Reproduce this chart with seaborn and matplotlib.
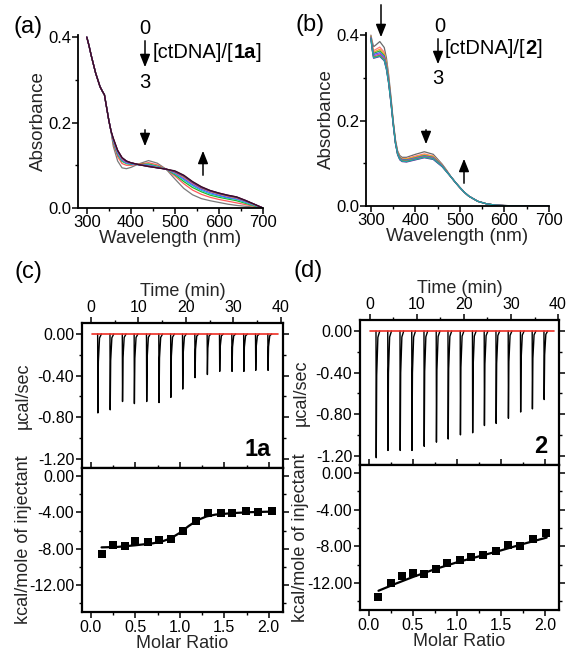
import numpy as np
import pandas as pd
import matplotlib
matplotlib.use("Agg")
import matplotlib.pyplot as plt
import seaborn as sns
from matplotlib.ticker import MultipleLocator, FormatStrFormatter
from matplotlib.patches import FancyArrowPatch

# ---------------- data ----------------
# panel (a): UV-vis titration of 1a with ctDNA
a_wl_head = [300, 305, 310, 320, 330, 335, 340, 345, 350, 355]
a_head = [0.400, 0.380, 0.357, 0.316, 0.284, 0.274, 0.265, 0.235, 0.205, 0.180]
a_wl_tail = [360, 370, 380, 390, 400, 420, 440, 460, 480, 500, 520, 540, 560, 580, 600, 620, 640, 660, 680, 700]
a_c0 = [0.145, 0.110, 0.094, 0.092, 0.095, 0.104, 0.111, 0.105, 0.091, 0.068, 0.046, 0.031, 0.022, 0.017, 0.013, 0.009, 0.006, 0.004, 0.002, 0.000]
a_c1 = [0.150, 0.120, 0.104, 0.100, 0.100, 0.103, 0.106, 0.101, 0.091, 0.075, 0.057, 0.042, 0.032, 0.025, 0.020, 0.016, 0.012, 0.008, 0.004, 0.000]
a_c2 = [0.154, 0.125, 0.109, 0.104, 0.102, 0.102, 0.103, 0.098, 0.091, 0.078, 0.062, 0.048, 0.038, 0.030, 0.025, 0.021, 0.017, 0.011, 0.005, 0.000]
a_c3 = [0.156, 0.127, 0.111, 0.105, 0.103, 0.101, 0.101, 0.097, 0.091, 0.080, 0.066, 0.052, 0.041, 0.033, 0.028, 0.023, 0.020, 0.013, 0.006, 0.000]
a_c4 = [0.158, 0.129, 0.113, 0.106, 0.104, 0.101, 0.100, 0.096, 0.091, 0.082, 0.069, 0.055, 0.044, 0.036, 0.030, 0.025, 0.022, 0.015, 0.007, 0.000]
a_c5 = [0.159, 0.131, 0.114, 0.107, 0.105, 0.101, 0.099, 0.095, 0.091, 0.083, 0.071, 0.057, 0.046, 0.038, 0.032, 0.027, 0.023, 0.016, 0.008, 0.000]
a_c6 = [0.161, 0.133, 0.116, 0.109, 0.106, 0.101, 0.098, 0.095, 0.091, 0.084, 0.073, 0.059, 0.047, 0.039, 0.033, 0.028, 0.024, 0.017, 0.008, 0.000]
a_c7 = [0.162, 0.134, 0.117, 0.109, 0.106, 0.101, 0.098, 0.094, 0.091, 0.085, 0.075, 0.060, 0.048, 0.040, 0.034, 0.029, 0.025, 0.017, 0.009, 0.000]
a_c8 = [0.163, 0.135, 0.118, 0.110, 0.106, 0.101, 0.097, 0.094, 0.091, 0.086, 0.076, 0.061, 0.049, 0.041, 0.035, 0.030, 0.026, 0.018, 0.009, 0.000]
a_c9 = [0.164, 0.135, 0.118, 0.110, 0.106, 0.101, 0.097, 0.094, 0.091, 0.087, 0.077, 0.062, 0.050, 0.041, 0.035, 0.030, 0.026, 0.018, 0.009, 0.000]
a_colors = ["#7a7a7a", "#ff5a5a", "#22b822", "#22c0c8", "#3a5cff", "#d040d0", "#c8c020", "#20207a", "#7a1a8a", "#3a1020"]

# panel (b): UV-vis titration of 2 with ctDNA
b_wl_head = [300, 303, 306, 310, 320, 330, 335, 340, 345, 350, 355, 360, 365, 370, 380, 400, 420, 440, 460, 470]
b_g0 = [0.400, 0.385, 0.373, 0.376, 0.385, 0.371, 0.346, 0.306, 0.256, 0.201, 0.156, 0.129, 0.118, 0.114, 0.114, 0.121, 0.127, 0.121, 0.098, 0.084]
b_g1 = [0.398, 0.378, 0.364, 0.366, 0.372, 0.360, 0.337, 0.299, 0.251, 0.198, 0.153, 0.126, 0.115, 0.111, 0.111, 0.117, 0.122, 0.117, 0.096, 0.083]
b_g2 = [0.397, 0.375, 0.360, 0.362, 0.367, 0.356, 0.333, 0.296, 0.249, 0.197, 0.152, 0.125, 0.114, 0.110, 0.110, 0.115, 0.120, 0.116, 0.095, 0.082]
b_g3 = [0.396, 0.373, 0.357, 0.359, 0.363, 0.352, 0.330, 0.294, 0.248, 0.196, 0.151, 0.124, 0.113, 0.109, 0.108, 0.113, 0.118, 0.114, 0.095, 0.082]
b_g4 = [0.395, 0.371, 0.354, 0.356, 0.359, 0.349, 0.327, 0.292, 0.246, 0.195, 0.150, 0.123, 0.112, 0.108, 0.107, 0.112, 0.117, 0.113, 0.094, 0.081]
b_g5 = [0.394, 0.369, 0.351, 0.353, 0.356, 0.346, 0.324, 0.290, 0.245, 0.194, 0.149, 0.122, 0.111, 0.107, 0.106, 0.111, 0.116, 0.112, 0.094, 0.081]
b_g6 = [0.393, 0.367, 0.349, 0.350, 0.353, 0.343, 0.322, 0.288, 0.243, 0.193, 0.148, 0.121, 0.110, 0.106, 0.105, 0.110, 0.115, 0.111, 0.093, 0.080]
b_g7 = [0.392, 0.365, 0.346, 0.347, 0.350, 0.340, 0.319, 0.286, 0.241, 0.191, 0.147, 0.120, 0.108, 0.104, 0.103, 0.108, 0.113, 0.109, 0.092, 0.080]
b_g8 = [0.392, 0.366, 0.347, 0.348, 0.351, 0.341, 0.320, 0.287, 0.242, 0.192, 0.148, 0.121, 0.109, 0.105, 0.104, 0.109, 0.114, 0.110, 0.093, 0.080]
b_wl_tail = [480, 490, 500, 510, 520, 540, 560, 580, 600, 650, 700]
b_tail = [0.068, 0.055, 0.043, 0.032, 0.023, 0.011, 0.005, 0.002, 0.001, 0.000, 0.000]
b_colors = ["#6a6a6a", "#ff7a7a", "#f0a030", "#30b030", "#4060ff", "#c040c0", "#909020", "#702090", "#20a8a8"]

# panel (c): ITC of 1a
c_inj_time = [1.4, 4.0, 6.6, 9.1, 11.7, 14.3, 16.8, 19.3, 21.9, 24.5, 27.1, 29.7, 32.2, 34.7, 37.3]
c_inj_peak = [-0.76, -0.73, -0.65, -0.67, -0.65, -0.66, -0.61, -0.53, -0.42, -0.39, -0.36, -0.36, -0.36, -0.35, -0.35]
c_base_t = [0.3, 39.4]
c_ratio = [0.12, 0.25, 0.38, 0.50, 0.64, 0.77, 0.90, 1.04, 1.18, 1.32, 1.46, 1.59, 1.74, 1.88, 2.04]
c_heat = [-8.58, -7.55, -7.70, -7.19, -7.30, -7.04, -6.90, -6.10, -4.93, -4.09, -4.12, -4.09, -3.80, -3.94, -3.83]
c_fit_x = [0.12, 0.30, 0.50, 0.70, 0.80, 0.90, 1.00, 1.10, 1.20, 1.30, 1.40, 1.60, 1.80, 2.04]
c_fit_y = [-7.85, -7.80, -7.62, -7.40, -7.20, -6.85, -6.25, -5.50, -4.85, -4.45, -4.25, -4.08, -3.98, -3.92]

# panel (d): ITC of 2
d_inj_time = [1.3, 3.8, 6.4, 8.9, 11.5, 14.1, 16.6, 19.2, 21.8, 24.3, 26.8, 29.4, 32.0, 34.5, 37.0]
d_inj_peak = [-1.22, -1.15, -1.15, -1.15, -1.11, -1.07, -1.04, -1.00, -0.98, -0.91, -0.89, -0.84, -0.78, -0.75, -0.66]
d_base_t = [0.0, 39.1]
d_ratio = [0.11, 0.25, 0.38, 0.50, 0.63, 0.76, 0.89, 1.03, 1.16, 1.30, 1.44, 1.58, 1.72, 1.86, 2.01]
d_heat = [-13.56, -12.00, -11.27, -10.90, -11.00, -10.44, -9.82, -9.53, -9.16, -8.90, -8.47, -7.82, -8.00, -7.20, -6.55]
d_fit_x = [0.11, 0.30, 0.50, 0.75, 1.00, 1.25, 1.50, 1.75, 2.02]
d_fit_y = [-12.85, -12.10, -11.35, -10.50, -9.75, -9.10, -8.45, -7.75, -7.05]

# ITC injection peak drawing template (relative time, fraction of peak)
spike_dt = [0.0, 0.05, 0.15, 0.40, 0.80]
spike_frac = [0.0, 1.0, 0.35, 0.05, 0.0]

# ---------------- style ----------------
sns.set_theme(style="ticks")
plt.rcParams['font.family'] = ['Liberation Sans', 'DejaVu Sans']
plt.rcParams['axes.unicode_minus'] = False
plt.rcParams['axes.edgecolor'] = 'black'
plt.rcParams['xtick.color'] = 'black'
plt.rcParams['ytick.color'] = 'black'
plt.rcParams['text.color'] = 'black'

W, H = 568, 654
fig = plt.figure(figsize=(W / 100, H / 100), dpi=100)
renderer = fig.canvas.get_renderer()


def rect(l, t, r, b):
    return [l / W, 1 - b / H, (r - l) / W, (b - t) / H]


def ftext(x, y, s, **kw):
    fig.text(x / W, 1 - y / H, s, ha=kw.pop('ha', 'center'), va=kw.pop('va', 'center'), **kw)


def rich(x, y, parts, size):
    xx = x
    for s, wgt in parts:
        t = fig.text(xx / W, 1 - y / H, s, fontsize=size, fontweight=wgt, ha='left', va='center')
        xx += t.get_window_extent(renderer=renderer).width


def farrow(x, y0, y1):
    fig.add_artist(FancyArrowPatch((x / W, 1 - y0 / H), (x / W, 1 - y1 / H),
                                   transform=fig.transFigure,
                                   arrowstyle='-|>,head_length=0.55,head_width=0.22',
                                   mutation_scale=14, color='black', lw=1.1))


TICK = 12
LAB = 13.5
ANN = 14.5


def uv_axes(ax, xlim):
    ax.set_xlim(*xlim)
    ax.set_ylim(0, 0.405)
    ax.xaxis.set_major_locator(MultipleLocator(100))
    ax.xaxis.set_minor_locator(MultipleLocator(50))
    ax.yaxis.set_major_locator(MultipleLocator(0.2))
    ax.yaxis.set_minor_locator(MultipleLocator(0.1))
    ax.yaxis.set_major_formatter(FormatStrFormatter('%.1f'))
    ax.tick_params(which='major', direction='out', length=4, width=1.1, labelsize=TICK, pad=1)
    ax.tick_params(which='minor', direction='out', length=2.5, width=1.0)
    for s in ['top', 'right']:
        ax.spines[s].set_visible(False)
    for s in ['left', 'bottom']:
        ax.spines[s].set_linewidth(1.3)
    ax.set_xlabel('Wavelength (nm)', fontsize=LAB, labelpad=0)
    ax.set_ylabel('Absorbance', fontsize=LAB, labelpad=1)


# ---------------- panel (a) ----------------
rows = []
for k, c in enumerate([a_c0, a_c1, a_c2, a_c3, a_c4, a_c5, a_c6, a_c7, a_c8, a_c9]):
    for w, v in zip(a_wl_head + a_wl_tail, a_head + c):
        rows.append((k, w, v))
dfa = pd.DataFrame(rows, columns=['step', 'wl', 'A'])
axa = fig.add_axes(rect(78, 35, 263, 208))
sns.lineplot(data=dfa, x='wl', y='A', hue='step', palette=a_colors, estimator=None,
             sort=False, legend=False, lw=0.9, ax=axa)
uv_axes(axa, (280, 700))

# ---------------- panel (b) ----------------
rows = []
for k, c in enumerate([b_g0, b_g1, b_g2, b_g3, b_g4, b_g5, b_g6, b_g7, b_g8]):
    for w, v in zip(b_wl_head + b_wl_tail, c + b_tail):
        rows.append((k, w, v))
dfb = pd.DataFrame(rows, columns=['step', 'wl', 'A'])
axb = fig.add_axes(rect(366, 33, 549, 206))
sns.lineplot(data=dfb, x='wl', y='A', hue='step', palette=b_colors, estimator=None,
             sort=False, legend=False, lw=0.9, ax=axb)
uv_axes(axb, (289, 700))

ITICK = 11.5
ILAB = 13


# ---------------- ITC panels ----------------
def itc(top_rect, bot_rect, times, peaks, base_t, tlim, ratio, heat, fx, fy, tag):
    axt = fig.add_axes(top_rect)
    rows = []
    for i, (t, p) in enumerate(zip(times, peaks)):
        for dt, f in zip(spike_dt, spike_frac):
            rows.append((i, t + dt, p * f))
    dfs = pd.DataFrame(rows, columns=['inj', 't', 'p'])
    sns.lineplot(x=base_t, y=[0, 0], color='#ee2d24', lw=1.2, ax=axt, zorder=3)
    sns.lineplot(data=dfs, x='t', y='p', units='inj', estimator=None, sort=False,
                 color='black', lw=1.0, ax=axt, zorder=2)
    axt.set_xlim(*tlim)
    axt.set_ylim(-1.29, 0.106)
    axt.xaxis.tick_top()
    axt.xaxis.set_label_position('top')
    axt.xaxis.set_major_locator(MultipleLocator(10))
    axt.xaxis.set_minor_locator(MultipleLocator(5))
    axt.yaxis.set_major_locator(MultipleLocator(0.4))
    axt.yaxis.set_minor_locator(MultipleLocator(0.2))
    axt.yaxis.set_major_formatter(FormatStrFormatter('%.2f'))
    axt.set_xlabel('Time (min)', fontsize=ILAB, labelpad=3)
    axt.set_ylabel('µcal/sec', fontsize=ILAB, labelpad=2)
    axt.tick_params(which='both', left=True, right=True, top=True, bottom=False)
    axt.tick_params(axis='y', which='both', direction='out')
    axt.tick_params(which='major', length=4, width=1.1, labelsize=ITICK, pad=1.5)
    axt.tick_params(which='minor', length=2.5, width=1.0)
    for s in axt.spines.values():
        s.set_linewidth(1.6)
    axt.text(0.94, 0.13, tag, transform=axt.transAxes, ha='right', va='center',
             fontsize=17, fontweight='bold')

    axb2 = fig.add_axes(bot_rect)
    sns.lineplot(x=fx, y=fy, color='black', lw=1.6, sort=False, ax=axb2)
    sns.scatterplot(x=ratio, y=heat, marker='s', s=32, color='black', edgecolor='black',
                    linewidth=0, ax=axb2, zorder=4)
    axb2.set_xlim(-0.1, 2.16)
    axb2.set_ylim(-14.95, 0.87)
    axb2.xaxis.set_major_locator(MultipleLocator(0.5))
    axb2.xaxis.set_minor_locator(MultipleLocator(0.25))
    axb2.yaxis.set_major_locator(MultipleLocator(4))
    axb2.yaxis.set_minor_locator(MultipleLocator(2))
    axb2.yaxis.set_major_formatter(FormatStrFormatter('%.2f'))
    axb2.xaxis.set_major_formatter(FormatStrFormatter('%.1f'))
    axb2.tick_params(which='both', left=True, right=True, top=True, bottom=True)
    axb2.tick_params(which='both', direction='out')
    axb2.tick_params(which='major', length=4, width=1.1, labelsize=ITICK, pad=1.5)
    axb2.tick_params(which='minor', length=2.5, width=1.0)
    for s in axb2.spines.values():
        s.set_linewidth(1.6)
    axb2.set_xlabel('Molar Ratio', fontsize=ILAB, labelpad=0)
    axb2.set_ylabel('kcal/mole of injectant', fontsize=ILAB, labelpad=0)
    return axt, axb2


axc_t, axc_b = itc(rect(82, 323, 283, 468), rect(82, 468, 283, 612), c_inj_time, c_inj_peak,
                   c_base_t, (-1.9, 40.5), c_ratio, c_heat, c_fit_x, c_fit_y, '1a')
axd_t, axd_b = itc(rect(360, 320, 559, 465), rect(360, 465, 559, 610), d_inj_time, d_inj_peak,
                   d_base_t, (-2.1, 40.2), d_ratio, d_heat, d_fit_x, d_fit_y, '2')

# align ylabels of ITC panels
for ax in (axc_t, axc_b):
    ax.yaxis.set_label_coords(-0.25, 0.5)
for ax in (axd_t, axd_b):
    ax.yaxis.set_label_coords(-0.255, 0.5)

# ---------------- annotations ----------------
ftext(28, 27, '(a)', fontsize=17)
ftext(310, 25, '(b)', fontsize=17)
ftext(28, 272, '(c)', fontsize=17)
ftext(308, 271, '(d)', fontsize=17)

# panel (a)
ftext(145, 28, '0', fontsize=ANN)
ftext(145, 83, '3', fontsize=ANN)
farrow(145, 38, 70)
rich(153, 52, [('[ctDNA]/[', 'normal'), ('1a', 'bold'), (']', 'normal')], ANN)
farrow(145, 127, 149)
farrow(203, 178, 148)

# panel (b)
ftext(440, 26, '0', fontsize=ANN)
ftext(438, 78, '3', fontsize=ANN)
farrow(438, 36, 67)
rich(445, 48, [('[ctDNA]/[', 'normal'), ('2', 'bold'), (']', 'normal')], ANN)
farrow(381, 2, 40)
farrow(426, 127, 147)
farrow(464, 186, 156)

fig.savefig('out.png', dpi=100)
